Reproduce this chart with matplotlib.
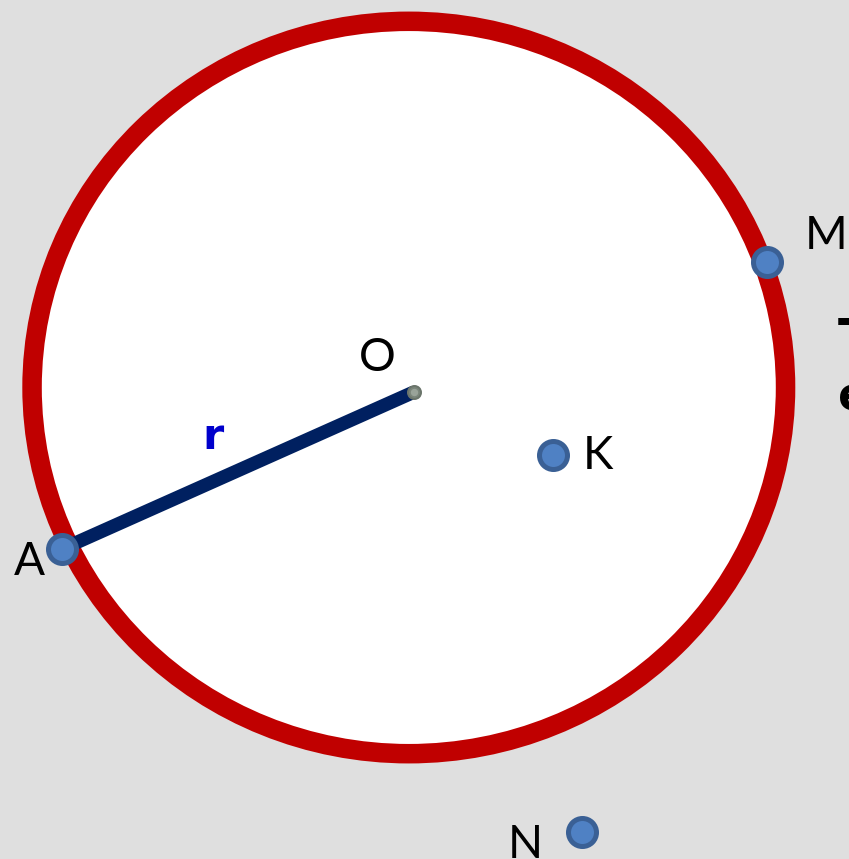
import matplotlib
matplotlib.use("Agg")
import matplotlib.pyplot as plt
from matplotlib.patches import Ellipse

# Data (image coordinate system, y down)
circle_center = (408.8, 387.5)
circle_width = 753.5
circle_height = 732.4

point_names = ["A", "M", "K", "N"]
point_x = [62, 767, 553, 582]
point_y = [549, 262, 455, 832]

center_name = "O"
center_x = 414
center_y = 392

label_names = ["A", "M", "K", "N", "O"]
label_x = [29, 826, 598, 525, 377]
label_y = [562, 236, 456, 845, 358]

radius_label = "r"
radius_label_pos = (213, 437)

W, H = 849, 859
fig = plt.figure(figsize=(W / 100, H / 100), dpi=100)
fig.patch.set_facecolor("#dfdfdf")
ax = fig.add_axes([0, 0, 1, 1])
ax.set_xlim(0, W)
ax.set_ylim(H, 0)
ax.axis("off")
ax.set_facecolor("#dfdfdf")

px = 72 / 100  # points per pixel

ring = Ellipse(circle_center, circle_width, circle_height,
               facecolor="white", edgecolor="#c00000", linewidth=19.5 * px, zorder=1)
ax.add_patch(ring)

# radius segment from A to O
ax.plot([point_x[0], center_x], [point_y[0], center_y], color="#002060",
        linewidth=13.5 * px, solid_capstyle="butt", zorder=2)

# center point
ax.scatter([center_x], [center_y], s=(13 * px) ** 2, color="#7a857a",
           edgecolors="#6b756b", linewidths=2 * px, zorder=3)
ax.scatter([center_x], [center_y], s=(6 * px) ** 2, color="#99a399", zorder=4)

# labelled points
ax.scatter(point_x, point_y, s=(28 * px) ** 2, color="#4f81c4",
           edgecolors="#3a6095", linewidths=5 * px, zorder=5)

font = ["Lato", "DejaVu Sans"]
for name, x, y in zip(label_names, label_x, label_y):
    ax.text(x, y, name, fontsize=33, family=font, fontweight="normal",
            color="black", ha="center", va="center", zorder=6)

ax.text(radius_label_pos[0], radius_label_pos[1], radius_label, fontsize=31,
        family=["DejaVu Sans"], fontweight="bold", color="#0000cc",
        ha="center", va="center", zorder=6)

# cut-off text at right edge
ax.text(838, 340, "T", fontsize=33, family=["DejaVu Sans"], fontweight="bold",
        color="black", ha="left", va="center", zorder=6)
ax.text(838, 398, "e", fontsize=33, family=["DejaVu Sans"], fontweight="bold",
        color="black", ha="left", va="center", zorder=6)
ax.text(845, 655, ".", fontsize=33, family=["DejaVu Sans"], fontweight="bold",
        color="black", ha="left", va="center", zorder=6)

fig.savefig("out.png", dpi=100, facecolor=fig.get_facecolor())
